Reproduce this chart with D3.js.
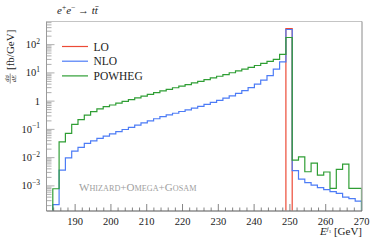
<!DOCTYPE html>
<html><head><meta charset="utf-8">
<script src="https://cdn.jsdelivr.net/npm/d3@7"></script>
<style>body{margin:0;background:#fff}svg{display:block}text{font-family:"Liberation Serif","DejaVu Serif",serif}</style>
</head><body><svg id="c" width="374" height="243"></svg>
<script>
// 50 bins of 1.76 GeV between 182 and 270 GeV
const binEdges = d3.range(51).map(i => 182 + i * 1.76);
const LO = [0,0,0,0,0,0,0,0,0,0, 0,0,0,0,0,0,0,0,0,0, 0,0,0,0,0,0,0,0,0,0, 0,0,0,0,0,0,0,0,372,0, 0,0,0,0,0,0,0,0,0,0];
const NLO = [0,2.18e-4,0.00362,0.00986,0.017,0.023,0.0319,0.0394,0.048,0.0578,
  0.0692,0.0828,0.099,0.118,0.1416,0.169,0.201,0.238,0.283,0.325,
  0.373,0.429,0.492,0.565,0.655,0.764,0.90,1.07,1.28,1.54,
  1.89,2.35,3.0,4.0,5.53,7.98,13.6,24.5,344,0.00348,
  0.00174,0.00131,0.00107,0.00087,0.00074,0.00063,0.00054,0.0004,0.000356,0.00029];
const POWHEG = [0,7.9e-4,0.0363,0.072,0.15,0.222,0.32,0.425,0.53,0.64,
  0.73,0.85,0.975,1.13,1.30,1.50,1.73,2.0,2.31,2.61,
  2.98,3.39,3.87,4.40,5.0,5.76,6.62,7.60,8.73,10.1,
  11.7,13.6,15.7,18.3,21.6,25.4,29.9,44.9,179,0.0082,
  0.0107,0.00316,0.0064,0.0024,0.0031,0.00082,0.00384,0.0059,0.00082,0.00082];
const seriesNames = ["LO","NLO","POWHEG"];
const seriesColors = ["#ec4a36","#4d7cf6","#2f9e34"];
const xTicks = [190,200,210,220,230,240,250,260,270];
const yTickExps = [2,1,0,-1,-2,-3];

const svg = d3.select("#c");
const L=46.5, R=361.5, T=21.5, B=211;
const x = d3.scaleLinear().domain([182,270]).range([L,R]);
const y = d3.scaleLog().domain([1.29e-4, 660]).range([B,T]);

svg.append("defs").append("clipPath").attr("id","clip")
  .append("rect").attr("x",L).attr("y",T).attr("width",R-L).attr("height",B-T-0.5);

// histograms
const data = [LO, NLO, POWHEG];
const g = svg.append("g").attr("clip-path","url(#clip)");
data.forEach((vals,si)=>{
  const pts = vals.map((v,i)=>[binEdges[i], v]);
  pts.push([binEdges[50], vals[49]]);
  const line = d3.line().x(d=>x(d[0])).y(d=>y(Math.max(d[1],1e-6))).curve(d3.curveStepAfter);
  const full = [[binEdges[0],0], ...pts, [binEdges[50],0]];
  g.append("path").attr("d", line(full)).attr("fill","none")
   .attr("stroke", seriesColors[si]).attr("stroke-width",1.2);
});

// frame
svg.append("line").attr("x1",L).attr("x2",R+0.5).attr("y1",T).attr("y2",T).attr("stroke","#c4c4c4").attr("stroke-width",1);
svg.append("line").attr("x1",R+0.5).attr("x2",R+0.5).attr("y1",T).attr("y2",B).attr("stroke","#8a8a8a").attr("stroke-width",1);
svg.append("line").attr("x1",L).attr("x2",L).attr("y1",T).attr("y2",B).attr("stroke","#9a9a9a").attr("stroke-width",1);
svg.append("line").attr("x1",L).attr("x2",R+0.5).attr("y1",B).attr("y2",B).attr("stroke","#555").attr("stroke-width",1);

// x ticks
const xMinor = d3.range(184,270,2).filter(v=>v%10!==0);
svg.selectAll(".xmin").data(xMinor).join("line")
  .attr("x1",d=>x(d)).attr("x2",d=>x(d)).attr("y1",B).attr("y2",B-3.5).attr("stroke","#666").attr("stroke-width",0.8);
svg.selectAll(".xmaj").data(xTicks.filter(v=>v<270)).join("line")
  .attr("x1",d=>x(d)).attr("x2",d=>x(d)).attr("y1",B).attr("y2",B-7).attr("stroke","#666").attr("stroke-width",0.8);
svg.selectAll(".xl").data(xTicks).join("text")
  .attr("x",d=>x(d)).attr("y",B+13.5).attr("text-anchor","middle").attr("font-size",10.5).attr("fill","#222").text(d=>d);

// y ticks
const yMinor = [];
for(let e=-4;e<=2;e++) for(let m=2;m<=9;m++){const v=m*Math.pow(10,e); if(v>y.domain()[0]&&v<y.domain()[1]) yMinor.push(v);}
svg.selectAll(".ymin").data(yMinor).join("line")
  .attr("x1",L).attr("x2",L+5).attr("y1",d=>y(d)).attr("y2",d=>y(d)).attr("stroke","#9a9a9a").attr("stroke-width",0.8);
svg.selectAll(".ymaj").data(yTickExps).join("line")
  .attr("x1",L).attr("x2",L+8).attr("y1",d=>y(Math.pow(10,d))).attr("y2",d=>y(Math.pow(10,d))).attr("stroke","#9a9a9a").attr("stroke-width",0.8);
const yl = svg.selectAll(".yl").data(yTickExps).join("text")
  .attr("x",40).attr("y",d=>y(Math.pow(10,d))+3.5).attr("text-anchor","end").attr("font-size",10.5).attr("fill","#222");
yl.each(function(d){
  const t=d3.select(this);
  if(d===0){t.text("1");return;}
  t.append("tspan").text("10");
  t.append("tspan").attr("dy",-4.5).attr("font-size",7.5).text(d>0?String(d):"\u2212"+(-d));
});

// legend
seriesNames.forEach((n,i)=>{
  const ly = 46.5 + i*14.7;
  svg.append("line").attr("x1",62).attr("x2",88).attr("y1",ly).attr("y2",ly).attr("stroke",seriesColors[i]).attr("stroke-width",1.2);
  svg.append("text").attr("x",93.5).attr("y",ly+4).attr("font-size",11.5).attr("fill","#222").text(n);
});

// title
const tt = svg.append("text").attr("x",57).attr("y",14).attr("font-size",11).attr("fill","#222");
tt.append("tspan").attr("font-style","italic").text("e");
tt.append("tspan").attr("dy",-4).attr("font-size",7.5).text("+");
tt.append("tspan").attr("dy",4).attr("font-style","italic").text("e");
tt.append("tspan").attr("dy",-4).attr("font-size",7.5).text("\u2212");
tt.append("tspan").attr("dy",4).text(" \u2192 ");
tt.append("tspan").attr("font-style","italic").text("tt\u0304");

// watermark
const wm = svg.append("text").attr("x",79).attr("y",191).attr("fill","#a0a0a0").attr("font-size",11);
[["W",11],["HIZARD",8.2],["+",11],["O",11],["MEGA",8.2],["+",11],["G",11],["OSAM",8.2]].forEach(([s,f])=>{
  wm.append("tspan").attr("font-size",f).text(s);
});

// x label
const xl = svg.append("text").attr("x",362).attr("y",235).attr("text-anchor","end").attr("font-size",11).attr("fill","#222");
xl.append("tspan").attr("font-style","italic").text("E");
xl.append("tspan").attr("dy",-4).attr("font-size",7).attr("font-style","italic").text("j");
xl.append("tspan").attr("dy",1.5).attr("font-size",5).text("1");
xl.append("tspan").attr("dy",2.5).text(" [GeV]");

// y label (rotated)
const yg = svg.append("g").attr("transform","translate(14,84) rotate(-90)");
yg.append("text").attr("x",5.5).attr("y",-5.5).attr("text-anchor","middle").attr("font-size",6.5).attr("font-style","italic").attr("fill","#222").text("d\u03c3");
yg.append("line").attr("x1",0.5).attr("x2",10.5).attr("y1",-3.8).attr("y2",-3.8).attr("stroke","#222").attr("stroke-width",0.5);
yg.append("text").attr("x",5.5).attr("y",2).attr("text-anchor","middle").attr("font-size",6.5).attr("font-style","italic").attr("fill","#222").text("dE");
yg.append("text").attr("x",14).attr("y",0).attr("font-size",11).attr("fill","#222").text("[fb/GeV]");
</script></body></html>
